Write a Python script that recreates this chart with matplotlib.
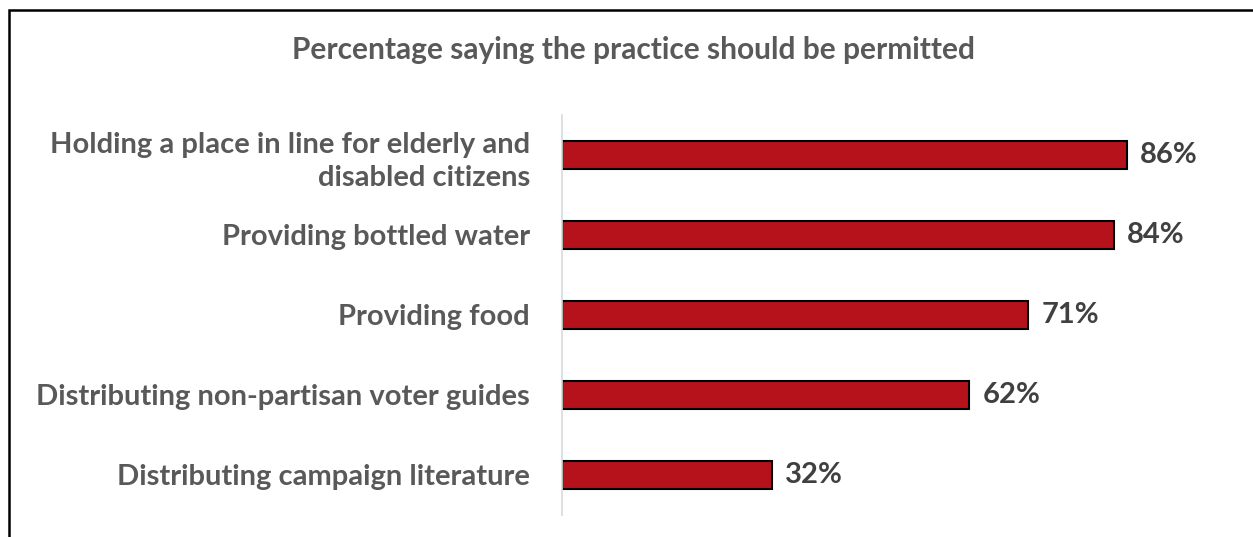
import matplotlib.pyplot as plt
from matplotlib.patches import Rectangle

plt.rcParams['font.family'] = ['Lato', 'DejaVu Sans']

practices = [
    "Holding a place in line for elderly and\ndisabled citizens",
    "Providing bottled water",
    "Providing food",
    "Distributing non-partisan voter guides",
    "Distributing campaign literature",
]
pct_permitted = [86, 84, 71, 62, 32]

fig = plt.figure(figsize=(12.53, 5.37), dpi=100)
ax = fig.add_axes([562 / 1253, 1 - 515 / 537, (1219 - 562) / 1253, 400 / 537])

ypos = list(range(len(practices)))
ax.barh(ypos, pct_permitted, height=0.36, color="#B5121B",
        edgecolor="black", linewidth=1.5)
ax.set_ylim(len(practices) - 0.5, -0.5)
ax.set_xlim(0, 100)

for y, v in zip(ypos, pct_permitted):
    ax.text(v + 2, y, f"{v}%", va="center", ha="left",
            fontsize=21, fontweight="bold", color="#404040")

ax.set_yticks(ypos)
ax.set_yticklabels(practices, fontsize=21, fontweight="bold",
                   color="#595959", multialignment="right", linespacing=1.35)
ax.tick_params(axis="y", length=0, pad=23)
ax.set_xticks([])
for side in ["top", "right", "bottom"]:
    ax.spines[side].set_visible(False)
ax.spines["left"].set_color("#D9D9D9")
ax.spines["left"].set_linewidth(1.2)

fig.text(633 / 1253, 1 - 50 / 537, "Percentage saying the practice should be permitted",
         ha="center", va="center", fontsize=21.5, fontweight="bold", color="#595959")

# outer frame, cut off on the right and bottom like the source
fig.patches.append(Rectangle((9 / 1253, -0.05), 1.1, 1 - 10 / 537 + 0.05,
                             transform=fig.transFigure, fill=False,
                             edgecolor="black", linewidth=1.8))

fig.savefig("out.png", dpi=100)
